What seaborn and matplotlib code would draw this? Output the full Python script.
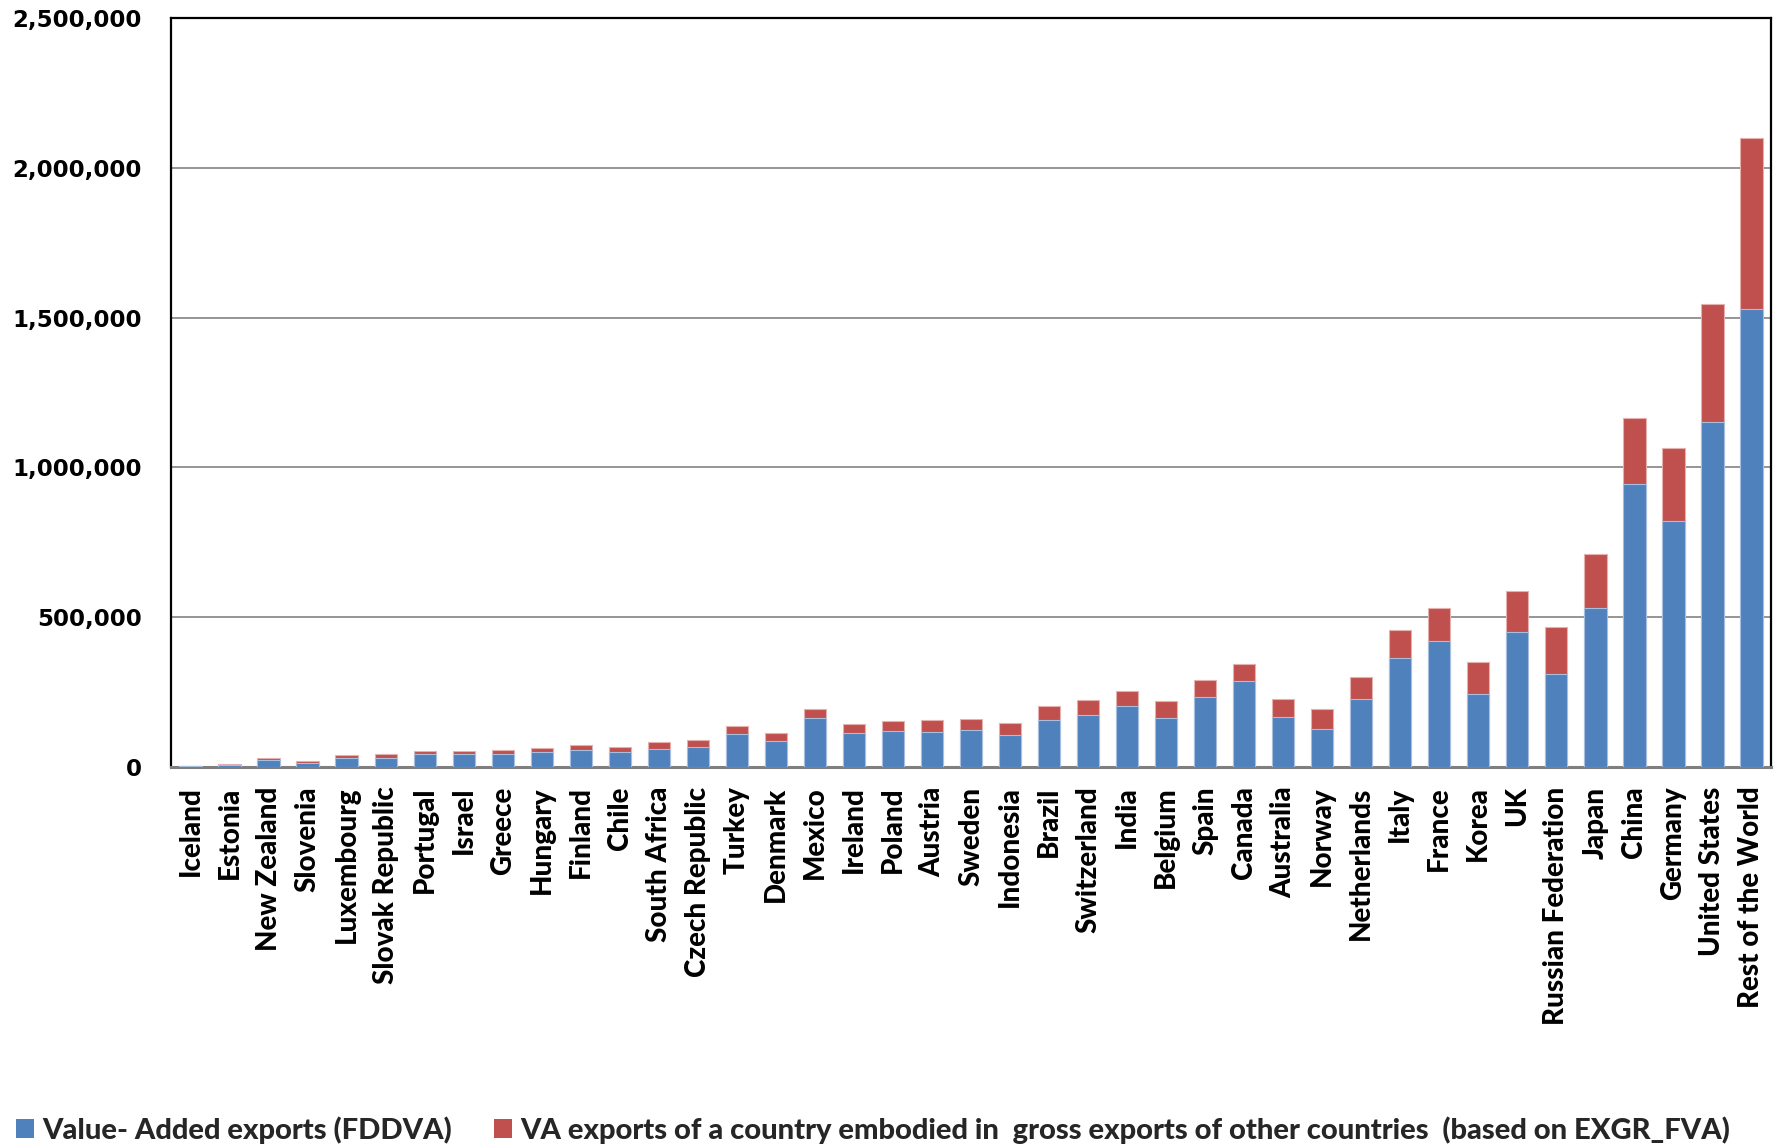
import matplotlib
matplotlib.use("Agg")
import matplotlib.pyplot as plt
from matplotlib.patches import Patch
from matplotlib.ticker import FuncFormatter, MultipleLocator
import pandas as pd
import seaborn as sns

countries = [
    "Iceland", "Estonia", "New Zealand", "Slovenia", "Luxembourg", "Slovak Republic",
    "Portugal", "Israel", "Greece", "Hungary", "Finland", "Chile", "South Africa",
    "Czech Republic", "Turkey", "Denmark", "Mexico", "Ireland", "Poland", "Austria",
    "Sweden", "Indonesia", "Brazil", "Switzerland", "India", "Belgium", "Spain",
    "Canada", "Australia", "Norway", "Netherlands", "Italy", "France", "Korea", "UK",
    "Russian Federation", "Japan", "China", "Germany", "United States", "Rest of the World",
]

# Value-added exports (FDDVA)
fddva = [
    3000, 7000, 24000, 15000, 31000, 30000, 44000, 44000, 44000, 51000, 57000, 49000,
    61000, 66000, 111000, 88000, 165000, 115000, 121000, 118000, 122000, 107000,
    158000, 174000, 202000, 165000, 233000, 286000, 166000, 127000, 226000, 365000,
    422000, 242000, 451000, 312000, 530000, 943000, 820000, 1153000, 1530000,
]

# VA exports embodied in gross exports of other countries (EXGR_FVA)
exgr_fva = [
    2000, 3000, 7000, 6000, 9000, 13000, 11000, 11000, 14000, 14000, 18000, 17000,
    22000, 24000, 25000, 25000, 28000, 28000, 32000, 38000, 38000, 41000,
    45000, 48000, 51000, 54000, 59000, 58000, 61000, 66000, 74000, 93000,
    108000, 109000, 136000, 156000, 181000, 222000, 246000, 393000, 570000,
]

legend_labels = [
    "Value- Added exports (FDDVA)",
    "VA exports of a country embodied in  gross exports of other countries  (based on EXGR_FVA)",
]

BLUE = "#4F81BD"
RED = "#C0504D"

df = pd.DataFrame({"country": countries, "fddva": fddva, "fva": exgr_fva})
df["total"] = df["fddva"] + df["fva"]

sns.set_theme(style="white")
label_font = ["Lato", "DejaVu Sans"]

W, H = 1779, 1145
fig = plt.figure(figsize=(W / 100, H / 100), dpi=100)
ax = fig.add_axes([171 / W, 1 - 767 / H, 1600 / W, (767 - 18) / H])

# stacked bars: full height in red, value-added part in blue on top
sns.barplot(data=df, x="country", y="total", color=RED, width=0.57,
            saturation=1, edgecolor="#E6B0AF", linewidth=0.8, ax=ax, zorder=3)
sns.barplot(data=df, x="country", y="fddva", color=BLUE, width=0.57,
            saturation=1, edgecolor="#A7BEDF", linewidth=0.8, ax=ax, zorder=4)

ax.set_xlim(-0.5, len(countries) - 0.5)
ax.set_ylim(0, 2500000)
ax.yaxis.set_major_locator(MultipleLocator(500000))
ax.yaxis.set_major_formatter(FuncFormatter(lambda v, p: f"{int(v):,}"))
ax.grid(axis="y", color="#8C8C8C", linewidth=1.3, zorder=0)
ax.grid(axis="x", visible=False)
ax.set_xlabel("")
ax.set_ylabel("")

for side in ("left", "top", "right"):
    ax.spines[side].set_color("black")
    ax.spines[side].set_linewidth(1.6)
ax.spines["bottom"].set_color("#7F7F7F")
ax.spines["bottom"].set_linewidth(2.2)

ax.tick_params(axis="y", length=0, pad=21)
ax.tick_params(axis="x", length=0, pad=14)
for t in ax.get_yticklabels():
    t.set_fontfamily("DejaVu Sans")
    t.set_fontweight("bold")
    t.set_fontsize(16.5)
    t.set_color("black")
ax.set_xticks(range(len(countries)))
ax.set_xticklabels(countries, rotation=90, ha="center", va="top",
                   fontsize=20, fontweight="black", family=label_font, color="black")

handles = [Patch(facecolor=BLUE, edgecolor="none"), Patch(facecolor=RED, edgecolor="none")]
fig.legend(handles, legend_labels, loc="center left",
           bbox_to_anchor=(16 / W, 1 - 1130 / H), ncol=2, frameon=False,
           prop={"family": label_font, "weight": "black", "size": 21},
           handlelength=0.6, handleheight=0.6, handletextpad=0.3,
           columnspacing=1.45, borderpad=0, borderaxespad=0)

fig.savefig("out.png", dpi=100, facecolor="white")
